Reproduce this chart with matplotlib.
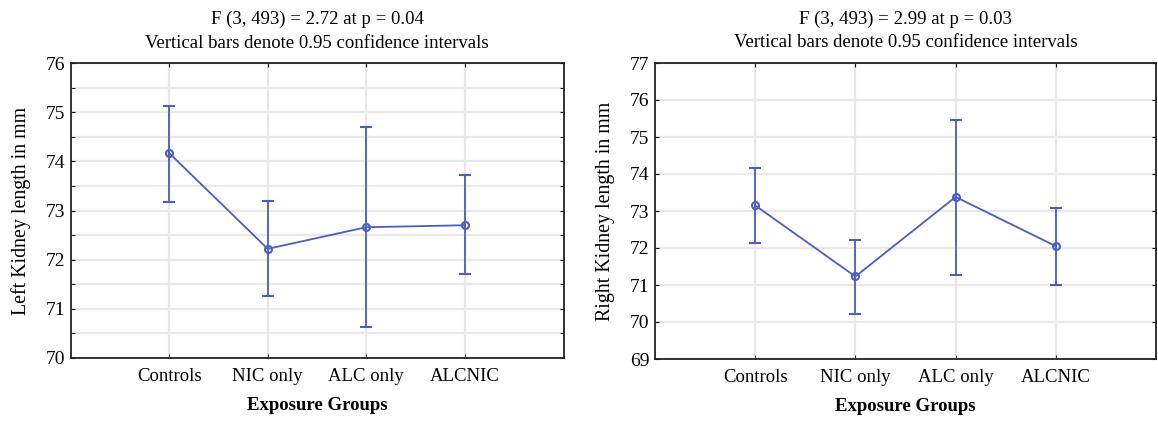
import numpy as np
import matplotlib
matplotlib.use("Agg")
import matplotlib.pyplot as plt
from matplotlib.ticker import MultipleLocator

plt.rcParams['font.family'] = ['Liberation Serif', 'DejaVu Serif']

groups = ["Controls", "NIC only", "ALC only", "ALCNIC"]

left_mean = [74.17, 72.22, 72.66, 72.70]
left_low = [73.17, 71.26, 70.63, 71.70]
left_high = [75.12, 73.20, 74.70, 73.72]

right_mean = [73.15, 71.23, 73.38, 72.05]
right_low = [72.13, 70.22, 71.28, 71.00]
right_high = [74.15, 72.21, 75.46, 73.08]

titles = ["F (3, 493) = 2.72 at p = 0.04", "F (3, 493) = 2.99 at p = 0.03"]
subtitle = "Vertical bars denote 0.95 confidence intervals"
ylabels = ["Left Kidney length in mm", "Right Kidney length in mm"]

W, H = 1158, 422
line_color = "#4c5cbf"
grid_color = "#e8e8e8"


def px_axes(fig, left, top, right, bottom):
    return fig.add_axes([left / W, 1 - bottom / H, (right - left) / W, (bottom - top) / H])


def draw_panel(ax, mean, low, high, ylim, minor, title, ylabel, ypad):
    x = np.arange(len(groups))
    mean = np.array(mean)
    err = [mean - np.array(low), np.array(high) - mean]
    ax.errorbar(x, mean, yerr=err, color=line_color, lw=1.3, marker="o", ms=5,
                mfc="none", mew=1.5, capsize=4, capthick=1.4, elinewidth=1.3, zorder=3)
    ax.set_xlim(-1, len(groups))
    ax.set_ylim(*ylim)
    ax.set_xticks(x)
    ax.set_xticklabels(groups, fontsize=13.5)
    ax.yaxis.set_major_locator(MultipleLocator(1))
    if minor:
        ax.yaxis.set_minor_locator(MultipleLocator(0.5))
    ax.tick_params(axis='y', which='major', labelsize=14, direction='in', length=3,
                   left=True, right=True, pad=4)
    ax.tick_params(axis='y', which='minor', direction='in', length=3, left=True, right=True)
    ax.tick_params(axis='x', direction='in', length=3, top=True, bottom=True, pad=7)
    ax.grid(True, which='both', color=grid_color, lw=1.6, zorder=0)
    ax.set_axisbelow(True)
    for s in ax.spines.values():
        s.set_linewidth(1.3)
        s.set_color("#222222")
    ax.set_xlabel("Exposure Groups", fontsize=13.5, fontweight='bold', labelpad=9)
    ax.set_ylabel(ylabel, fontsize=14.3, labelpad=ypad)
    ax.text(0.5, 1 + 44 / 296, title, transform=ax.transAxes, ha='center', va='center', fontsize=13.5)
    ax.text(0.5, 1 + 20 / 296, subtitle, transform=ax.transAxes, ha='center', va='center', fontsize=13.5)


fig = plt.figure(figsize=(W / 100, H / 100), dpi=100)
ax1 = px_axes(fig, 70.5, 63, 563.5, 358)
ax2 = px_axes(fig, 655, 63, 1156, 359)

draw_panel(ax1, left_mean, left_low, left_high, (70, 76), True, titles[0], ylabels[0], 10)
draw_panel(ax2, right_mean, right_low, right_high, (69, 77), False, titles[1], ylabels[1], 11)

fig.savefig("out.png", dpi=100)
